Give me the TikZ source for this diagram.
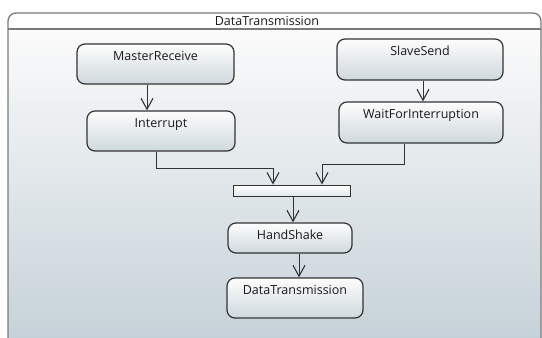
\documentclass[tikz,border=0pt]{standalone}
\usepackage{fontspec}
\setmainfont{Open Sans}
\usetikzlibrary{arrows.meta}
\definecolor{bgtop}{HTML}{FBFBFB}
\definecolor{bgbot}{HTML}{C6D2D9}
\definecolor{nodetop}{HTML}{FDFDFD}
\definecolor{nodebot}{HTML}{CFD9DD}
\definecolor{edge}{HTML}{333333}
\definecolor{framecol}{HTML}{7A7A7A}
\tikzset{
  labelfont/.style={font=\fontsize{12.5}{14}\selectfont, text=black!90},
  act/.style={draw=edge, line width=1.2pt, rounded corners=8pt,
    top color=nodetop, bottom color=nodebot,
    inner xsep=0pt, inner ysep=0pt, text height=16pt, labelfont},
  forkbar/.style={draw=edge, line width=0.9pt, top color=white, bottom color=nodebot!60,
    inner sep=0pt, minimum width=117pt, minimum height=11pt},
  flow/.style={draw=edge, line width=1pt,
    -{Straight Barb[length=11pt, width=12pt, line width=1.1pt]}},
}
\begin{document}
\begin{tikzpicture}[x=1pt, y=-1pt]
  \useasboundingbox (0,0) rectangle (542,338);
  % background of the frame body
  \shade[top color=bgtop, bottom color=bgbot] (8,29) rectangle (541,338);
  \fill[white] (8,29) -- (8,21) arc[start angle=180, end angle=90, radius=8] -- (533,13)
     arc[start angle=90, end angle=0, radius=8] -- (541,29) -- cycle;
  % frame with its title compartment
  \draw[framecol, line width=1.3pt, rounded corners=8pt] (8,345) -- (8,13) -- (541,13) -- (541,345);
  \draw[framecol, line width=1.1pt] (8,29) -- (541,29);
  \node[labelfont] (title) at (267,21) {DataTransmission};

  % activities
  \node[act, minimum width=157pt, text depth=24pt] (mr)  at (155.5,64)  {MasterReceive};
  \node[act, minimum width=148pt, text depth=24pt] (intr) at (161,131)  {Interrupt};
  \node[act, minimum width=166pt, text depth=25pt] (ss)  at (420,59.5)  {SlaveSend};
  \node[act, minimum width=164pt, text depth=25pt] (wfi) at (421,122.5) {WaitForInterruption};
  \node[forkbar] (bar) at (291.5,190.5) {};
  \node[act, minimum width=124pt, text depth=14pt] (hs)  at (290,238)   {HandShake};
  \node[act, minimum width=136pt, text depth=24pt] (dt)  at (295,298)   {DataTransmission};

  % control flows
  \draw[flow] ([xshift=-8.5pt]mr.south) -- ([xshift=-14pt]intr.north);
  \draw[flow] ([xshift=3pt]ss.south) -- ([xshift=2pt]wfi.north);
  \draw[flow] ([xshift=-5pt]intr.south) -- ++(0,17) -| ([xshift=-18.5pt]bar.north);
  \draw[flow] ([xshift=-17pt]wfi.south) -- ++(0,21) -| ([xshift=30.5pt]bar.north);
  \draw[flow] ([xshift=1.5pt]bar.south) -- ([xshift=3pt]hs.north);
  \draw[flow] ([xshift=9pt]hs.south) -- ([xshift=4pt]dt.north);
\end{tikzpicture}
\end{document}
